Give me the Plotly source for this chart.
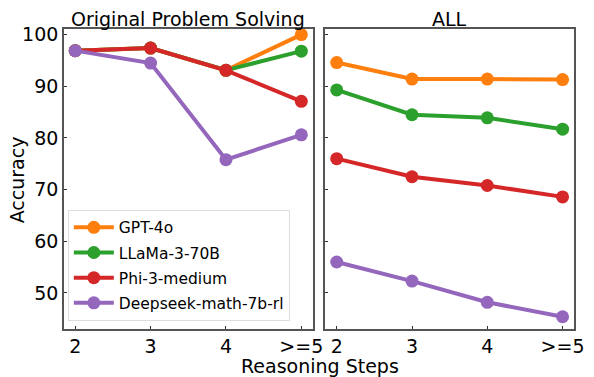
import plotly.graph_objects as go

steps = ["2", "3", "4", ">=5"]
models = ["GPT-4o", "LLaMa-3-70B", "Phi-3-medium", "Deepseek-math-7b-rl"]
colors = ["#ff7f0e", "#2ca02c", "#d62728", "#9467bd"]

orig_gpt = [96.9, 97.4, 93.1, 100.0]
orig_llama = [96.9, 97.4, 93.1, 96.8]
orig_phi = [96.9, 97.4, 93.1, 87.1]
orig_deepseek = [96.9, 94.5, 75.8, 80.6]

all_gpt = [94.6, 91.4, 91.4, 91.3]
all_llama = [89.3, 84.5, 83.9, 81.7]
all_phi = [76.0, 72.5, 70.8, 68.6]
all_deepseek = [56.0, 52.3, 48.2, 45.4]

orig = [orig_gpt, orig_llama, orig_phi, orig_deepseek]
alls = [all_gpt, all_llama, all_phi, all_deepseek]

fig = go.Figure()
for i, m in enumerate(models):
    fig.add_trace(go.Scatter(x=steps, y=orig[i], mode="lines+markers", name=m,
                             line=dict(color=colors[i], width=4),
                             marker=dict(color=colors[i], size=13),
                             xaxis="x", yaxis="y", legendgroup=m))
for i, m in enumerate(models):
    fig.add_trace(go.Scatter(x=steps, y=alls[i], mode="lines+markers", name=m,
                             line=dict(color=colors[i], width=4),
                             marker=dict(color=colors[i], size=13),
                             xaxis="x2", yaxis="y2", legendgroup=m, showlegend=False))

W, H = 594, 377
axcommon = dict(showline=True, linecolor="#555", linewidth=1.5, mirror=True,
                ticks="inside", ticklen=3, tickcolor="#333", showgrid=False, zeroline=False,
                tickfont=dict(family="DejaVu Sans", size=19, color="black"))
yr = [43.1, 101.15]
fig.update_layout(
    width=W, height=H, margin=dict(l=0, r=0, t=0, b=0),
    plot_bgcolor="white", paper_bgcolor="white",
    xaxis=dict(domain=[65/W, 318/W], type="category", range=[-0.15, 3.15], anchor="y", **axcommon),
    yaxis=dict(domain=[1-328/H, 1-24/H], range=yr, anchor="x",
               tickvals=[50, 60, 70, 80, 90, 100], **axcommon),
    xaxis2=dict(domain=[331/W, 583.7/W], type="category", range=[-0.15, 3.15], anchor="y2", **axcommon),
    yaxis2=dict(domain=[1-328/H, 1-24/H], range=yr, anchor="x2", showticklabels=False,
                tickvals=[50, 60, 70, 80, 90, 100], **axcommon),
    legend=dict(x=69/W, y=1-320/H, xanchor="left", yanchor="bottom",
                bgcolor="white", bordercolor="#dddddd", borderwidth=1,
                font=dict(family="DejaVu Sans", size=15.5, color="black"),
                itemwidth=40, tracegroupgap=2),
    font=dict(family="DejaVu Sans", color="black"),
    annotations=[
        dict(text="Original Problem Solving", x=191/W, y=1-14/H, xref="paper", yref="paper",
             xanchor="center", yanchor="middle", showarrow=False, font=dict(size=19)),
        dict(text="ALL", x=457/W, y=1-14/H, xref="paper", yref="paper",
             xanchor="center", yanchor="middle", showarrow=False, font=dict(size=19)),
        dict(text="Reasoning Steps", x=325/W, y=1-366/H, xref="paper", yref="paper",
             xanchor="center", yanchor="middle", showarrow=False, font=dict(size=19)),
        dict(text="Accuracy", x=17/W, y=1-177/H, xref="paper", yref="paper", textangle=-90,
             xanchor="center", yanchor="middle", showarrow=False, font=dict(size=19)),
    ],
)
fig.write_html("out.html")
